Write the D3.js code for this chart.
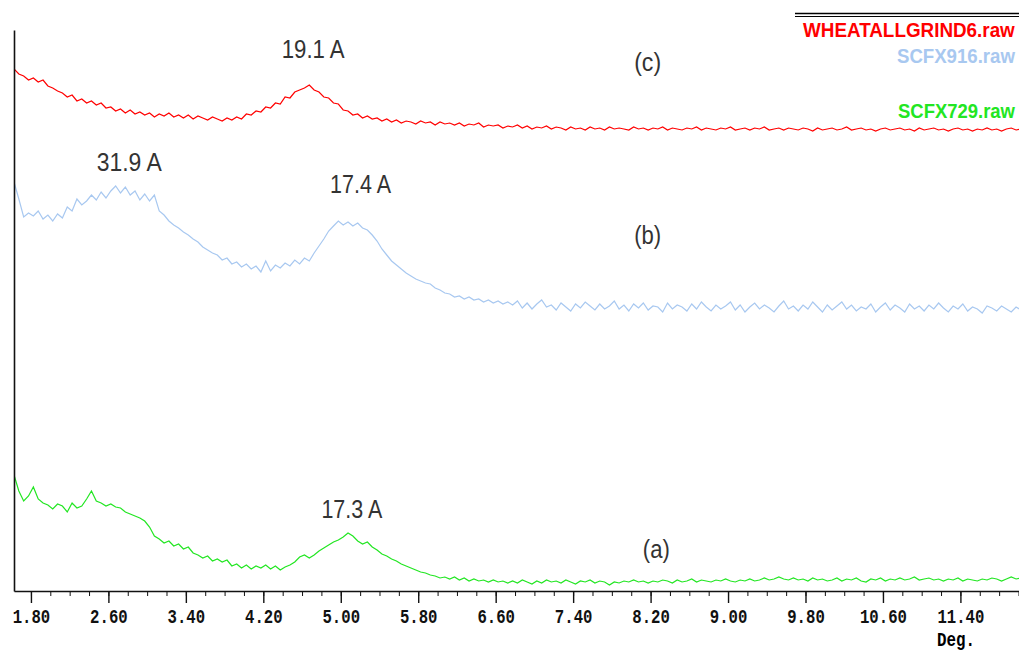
<!DOCTYPE html>
<meta charset="utf-8">
<style type="text/css">
body { margin: 0; background: #fff; }
.trace { fill: none; stroke-width: 1.2; }
.axis path, .axis line { stroke: #111; }
.axis .domain { stroke-width: 1.6; }
.axis text { font-family: "Liberation Mono", monospace; font-weight: bold; font-size: 20px; fill: #111; }
.note { font-family: "Liberation Sans", Arial, sans-serif; font-size: 25px; fill: #333; }
.legend { font-family: "Liberation Sans", Arial, sans-serif; font-size: 21px; font-weight: bold; }
</style>
<body>
<div id="xrd"></div>
<script src="https://d3js.org/d3.v7.min.js"></script>
<script type="text/javascript">
// step scan: 2-theta start and step (deg)
var scanStart = 1.625, scanStep = 0.05;

// (c) WHEATALLGRIND6.raw
var wheatAllGrind6 = [522,517,515,511,513,509,511,505,503,500,
  498,494,496,490,492,488,490,486,488,483,
  484,480,482,478,481,477,479,476,478,474,
  477,475,478,474,476,473,476,472,475,473,
  471,474,472,470,473,471,474,472,477,476,
  480,479,484,483,488,487,494,493,499,501,
  503,506,501,499,494,493,488,487,481,480,
  476,477,473,475,472,473,470,472,469,471,
  468,470,469,467,470,468,469,466,469,467,
  468,466,468,465,467,466,468,464,466,465,
  466,463,465,464,466,463,465,462,464,463,
  465,462,464,463,461,464,462,463,461,464,
  462,463,461,464,462,463,462,461,464,462,
  463,461,463,462,464,461,463,462,461,463,
  462,464,461,463,462,461,463,462,464,461,
  462,463,461,463,462,464,461,462,463,461,
  463,462,461,463,462,460,463,461,462,463,
  461,462,464,461,462,463,461,462,460,462,
  463,461,462,463,461,462,460,463,461,462,
  463,461,462,460,462,463,461,462,460,462,
  461,463,461,462,460,462,463,461,462];

// (b) SCFX916.raw
var scfx916 = [409,392,374,378,375,380,372,376,370,377,
  373,384,380,392,386,390,396,391,399,393,
  400,405,398,404,396,400,391,397,390,396,
  380,376,370,366,363,359,356,352,349,344,
  341,338,336,331,333,327,329,324,327,322,
  325,319,330,320,326,323,328,325,331,327,
  333,330,338,345,352,360,365,370,366,369,
  365,368,363,361,356,350,342,336,330,326,
  322,318,315,312,310,308,307,303,301,298,
  297,294,295,292,294,291,292,289,291,288,
  290,287,289,
  286,290,283,288,282,287,291,284,286,281,
  288,284,280,287,283,289,285,281,287,282,
  285,290,282,286,280,287,283,288,281,285,
  284,279,288,282,286,284,280,287,282,289,
  284,280,286,282,285,289,281,286,279,284,
  288,282,286,283,279,285,290,282,285,280,
  286,282,289,284,279,286,281,285,289,282,
  286,280,284,282,287,279,284,288,281,286,
  283,279,287,282,285,280,286,282,288,283,
  279,285,282,287,280,284,282,278,285,283,
  280,285,282,279,284,281];

// (a) SCFX729.raw
var scfx729 = [116,100,90,95,104,92,88,86,82,87,
  85,79,88,83,85,92,100,90,88,85,
  87,84,83,79,77,75,73,70,64,55,
  52,48,50,45,47,42,44,38,36,33,
  35,30,32,29,31,25,27,23,26,22,
  25,23,26,22,25,21,24,26,29,34,
  36,33,36,40,43,46,49,51,54,58,
  55,50,47,49,44,41,37,35,32,30,
  27,25,23,21,19,18,16,15,13,14,
  12,14,11,13,10,12,10,11,9,11,
  9,10,8,
  10,8,11,9,7,10,8,11,9,10,
  8,11,9,7,10,9,11,8,10,9,
  6,9,8,10,9,11,9,10,8,10,
  9,11,10,8,11,9,10,12,9,11,
  10,9,11,10,12,10,9,11,10,12,
  10,11,13,11,12,14,12,11,13,11,
  12,10,13,11,12,10,11,13,10,12,
  11,13,10,9,12,11,13,10,12,11,
  13,11,12,14,11,12,13,11,12,10,
  12,11,13,10,12,11,10,12,11,13,
  12,10,12,14,12,13];

var seriesNames = ["WHEATALLGRIND6.raw", "SCFX916.raw", "SCFX729.raw"];
var seriesColors = ["#ff0000", "#a8c8f0", "#22e622"];
var seriesValues = [wheatAllGrind6, scfx916, scfx729];

var majorTicks = [1.80, 2.60, 3.40, 4.20, 5.00, 5.80, 6.60, 7.40, 8.20, 9.00, 9.80, 10.60, 11.40];
var minorTicks = [1.8,2.0,2.2,2.4,2.6,2.8,3.0,3.2,3.4,3.6,3.8,4.0,4.2,4.4,4.6,4.8,5.0,5.2,5.4,5.6,5.8,
  6.0,6.2,6.4,6.6,6.8,7.0,7.2,7.4,7.6,7.8,8.0,8.2,8.4,8.6,8.8,9.0,9.2,9.4,9.6,9.8,
  10.0,10.2,10.4,10.6,10.8,11.0,11.2,11.4,11.6,11.8,12.0];

// peak / curve annotations (deg, counts)
var noteText = ["19.1 A", "(c)", "31.9 A", "17.4 A", "(b)", "17.3 A", "(a)"];
var noteDeg = [4.39, 8.03, 2.48, 4.89, 8.03, 4.80, 8.12];
var noteCounts = [533, 520, 420, 398, 347, 73, 33];
var noteWidth = [63, 27, 65, 61, 27, 61, 27];

var width = 1019, height = 654;

var xScale = d3.scaleLinear().domain([1.625, 12.0]).range([14, 1018.5]);
var yScale = d3.scaleLinear().domain([0, 561]).range([591, 30]);

var svg = d3.select("#xrd").append("svg")
    .attr("width", width)
    .attr("height", height);

svg.append("defs").append("clipPath").attr("id", "plotclip")
  .append("rect").attr("x", 14).attr("y", 0).attr("width", width - 14).attr("height", 591);

var line = d3.line()
    .x(function(d, i) { return xScale(scanStart + i * scanStep); })
    .y(function(d) { return yScale(d); });

svg.append("g").attr("clip-path", "url(#plotclip)")
  .selectAll(".trace")
  .data(seriesValues)
  .enter().append("path")
    .attr("class", "trace")
    .attr("stroke", function(d, i) { return seriesColors[i]; })
    .attr("d", line);

// minor ticks
svg.append("g")
    .attr("class", "axis")
    .attr("transform", "translate(0,591)")
    .call(d3.axisBottom(xScale).tickValues(minorTicks).tickSize(5).tickFormat(""))
    .call(function(g) { g.select(".domain").remove(); });

// major ticks + labels
var xAxis = svg.append("g")
    .attr("class", "axis")
    .attr("transform", "translate(0,591)")
    .call(d3.axisBottom(xScale).tickValues(majorTicks).tickSize(12).tickSizeOuter(0).tickFormat(d3.format(".2f")));
xAxis.selectAll(".tick line").attr("stroke-width", 1.4);
xAxis.selectAll("text")
    .attr("y", 32).attr("dy", 0)
    .attr("textLength", function() { return this.textContent.length * 9.4; })
    .attr("lengthAdjust", "spacingAndGlyphs");

svg.append("text")
    .attr("x", 956).attr("y", 646)
    .attr("text-anchor", "middle")
    .style("font-family", "Liberation Mono, monospace").style("font-weight", "bold").style("font-size", "20px")
    .attr("textLength", 38).attr("lengthAdjust", "spacingAndGlyphs")
    .text("Deg.");

svg.append("g")
    .attr("class", "axis")
    .attr("transform", "translate(14,0)")
    .call(d3.axisLeft(yScale).tickValues([]).tickSizeOuter(0));

// squeeze a text horizontally to a given width, left edge at (x, y)
function squeeze(sel, xs, ys, ws) {
  sel.each(function(d, i) {
    var w = this.getComputedTextLength();
    d3.select(this).attr("transform",
      "translate(" + xs(i) + "," + ys(i) + ") scale(" + (ws[i] / w) + ",1)");
  });
}

// annotations
var notes = svg.selectAll(".note")
  .data(noteText)
  .enter().append("text")
    .attr("class", "note")
    .text(function(d) { return d; });
squeeze(notes,
  function(i) { return xScale(noteDeg[i]); },
  function(i) { return yScale(noteCounts[i]); },
  noteWidth);

// legend, top right
svg.append("line").attr("x1", 795).attr("x2", 1019).attr("y1", 13.5).attr("y2", 13.5)
    .attr("stroke", "#000").attr("stroke-width", 1.6);
svg.append("line").attr("x1", 795).attr("x2", 1019).attr("y1", 16.5).attr("y2", 16.5)
    .attr("stroke", "#000").attr("stroke-width", 1.2);

var legendY = [37, 63, 118];
var legendX = [803, 897, 898];
var legendW = [212, 118, 117];
var legend = svg.selectAll(".legend")
  .data(seriesNames)
  .enter().append("text")
    .attr("class", "legend")
    .attr("fill", function(d, i) { return seriesColors[i]; })
    .text(function(d) { return d; });
squeeze(legend,
  function(i) { return legendX[i]; },
  function(i) { return legendY[i]; },
  legendW);
</script>
</body>
